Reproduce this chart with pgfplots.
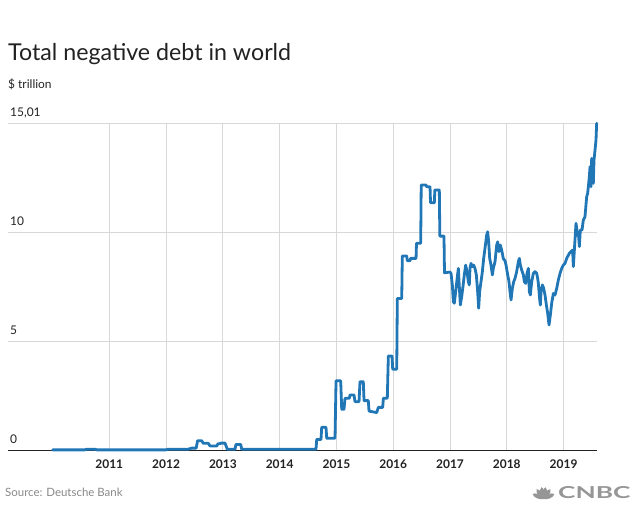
\documentclass[border=0pt]{standalone}
\usepackage{fontspec}
\setmainfont{Lato}
\usepackage{graphicx}
\usepackage{pgfplots}
\pgfplotsset{compat=1.18}
\definecolor{lineblue}{RGB}{33,118,182}
\definecolor{gridgray}{RGB}{216,216,216}
\definecolor{txt}{RGB}{34,34,34}
\definecolor{srcgray}{RGB}{136,136,136}
\definecolor{logogray}{RGB}{150,150,150}
\begin{document}
\begin{tikzpicture}[x=1bp,y=1bp]
\path[use as bounding box] (0,0) rectangle (638,513);
\node[anchor=base west, font=\fontsize{23.3}{26}\selectfont, text=txt, inner sep=0] at (8,452.3) {Total negative debt in world};
\node[anchor=base west, font=\fontsize{12}{14}\selectfont, text=txt, inner sep=0] at (8,424) {\$ trillion};
\node[anchor=base west, font=\fontsize{11.5}{14}\selectfont, text=srcgray, inner sep=0] at (5,16.5) {Source: Deutsche Bank};
% CNBC logo
\begin{scope}[shift={(543.5,14)}]
\foreach \a in {25,55,80,100,125,155}{
  \fill[logogray, rotate=\a] (0,0) .. controls (3,2.7) and (10,3) .. (12,0) .. controls (10,-3) and (3,-2.7) .. (0,0);
}
\end{scope}
\node[anchor=base west, font=\fontsize{16.5}{18}\selectfont\bfseries, text=logogray, inner sep=0] at (558,14) {\scalebox{1.6}[1]{CNBC}};
\begin{axis}[
  at={(8bp,62.7bp)}, anchor=south west,
  scale only axis, width=589bp, height=327bp,
  xmin=2009.216, xmax=2019.589,
  ymin=0, ymax=15.01,
  clip=false,
  axis x line*=bottom, axis y line*=left,
  x axis line style={draw=txt, line width=1.2bp},
  y axis line style={draw=none},
  xtick={2011,2012,2013,2014,2015,2016,2017,2018,2019},
  xticklabels={2011,2012,2013,2014,2015,2016,2017,2018,2019},
  xticklabel style={font=\fontsize{12}{13}\selectfont\bfseries, text=txt, anchor=north, yshift=-6bp},
  major tick length=0,
  ytick={5,10,15.01},
  yticklabels={},
  xmajorgrids, ymajorgrids,
  major grid style={draw=gridgray, line width=0.9bp},
]
\node[anchor=base west, font=\fontsize{12}{14}\selectfont, text=txt, inner sep=0] at (axis cs:2009.216,15.01) [xshift=2bp, yshift=6.5bp] {15,01};
\node[anchor=base west, font=\fontsize{12}{14}\selectfont, text=txt, inner sep=0] at (axis cs:2009.216,10) [xshift=2bp, yshift=6.5bp] {10};
\node[anchor=base west, font=\fontsize{12}{14}\selectfont, text=txt, inner sep=0] at (axis cs:2009.216,5) [xshift=2bp, yshift=6.5bp] {5};
\node[anchor=base west, font=\fontsize{12}{14}\selectfont, text=txt, inner sep=0] at (axis cs:2009.216,0) [xshift=2bp, yshift=7bp] {0};
\addplot[draw=lineblue, line width=2.8bp, line join=round, line cap=round, mark=none] coordinates {
(2010.003,0.02) (2010.57,0.02) (2010.6,0.05) (2010.75,0.05) (2010.78,0.02)
(2012.0,0.02) (2012.03,0.05) (2012.39,0.05) (2012.45,0.1) (2012.53,0.1)
(2012.555,0.44) (2012.627,0.44) (2012.655,0.32) (2012.744,0.32) (2012.773,0.2)
(2012.892,0.2) (2012.914,0.3) (2012.95,0.3) (2012.96,0.33) (2013.038,0.33)
(2013.078,0.05) (2013.214,0.05) (2013.231,0.27) (2013.314,0.27) (2013.332,0.05)
(2014.64,0.05) (2014.653,0.5) (2014.728,0.5) (2014.741,1.06) (2014.816,1.06)
(2014.829,0.55) (2014.975,0.55) (2014.993,3.19) (2015.075,3.19) (2015.093,1.88)
(2015.133,1.88) (2015.151,2.39) (2015.227,2.39) (2015.239,2.54) (2015.31,2.54)
(2015.327,2.23) (2015.398,2.23) (2015.415,3.15) (2015.473,3.15) (2015.486,2.28)
(2015.561,2.28) (2015.574,1.8) (2015.709,1.73) (2015.738,1.97) (2015.815,1.97)
(2015.826,2.39) (2015.896,2.39) (2015.914,4.33) (2015.979,4.33) (2015.991,3.72)
(2016.062,3.72) (2016.072,6.97) (2016.15,6.97) (2016.16,8.92) (2016.238,8.92)
(2016.248,8.7) (2016.296,8.7) (2016.305,8.81) (2016.402,8.81) (2016.41,9.5)
(2016.484,9.5) (2016.493,12.18) (2016.578,12.18) (2016.587,12.1) (2016.648,12.1)
(2016.657,11.36) (2016.724,11.36) (2016.733,11.95) (2016.812,11.95) (2016.821,9.83)
(2016.894,9.83) (2016.903,8.15) (2017.0,8.18)
(2017.018,8.12) (2017.041,7.59) (2017.059,6.82) (2017.076,6.75) (2017.1,7.28)
(2017.123,7.82) (2017.147,8.35) (2017.164,7.51) (2017.182,6.67) (2017.206,7.05)
(2017.235,7.66) (2017.252,8.05) (2017.276,8.5) (2017.3,8.2) (2017.323,7.74)
(2017.34,7.59) (2017.352,8.35) (2017.37,8.58) (2017.393,8.43) (2017.417,8.5)
(2017.44,8.35) (2017.464,8.05) (2017.487,7.28) (2017.505,6.52) (2017.522,7.28)
(2017.546,7.74) (2017.57,8.2) (2017.593,8.81) (2017.616,9.27) (2017.646,9.88)
(2017.663,10.03) (2017.681,9.57) (2017.699,8.81) (2017.722,8.5) (2017.746,8.05)
(2017.763,8.35) (2017.793,8.66) (2017.822,9.42) (2017.84,9.57) (2017.863,9.12)
(2017.886,9.42) (2017.91,9.19) (2017.939,8.8) (2017.969,8.7)
(2017.987,8.5) (2018.016,8.05) (2018.039,7.74) (2018.057,7.28) (2018.075,6.9)
(2018.098,7.43) (2018.122,7.74) (2018.145,7.89) (2018.174,8.2) (2018.204,8.66)
(2018.221,8.81) (2018.239,8.5) (2018.263,8.27) (2018.292,8.05) (2018.309,7.74)
(2018.333,7.66) (2018.356,8.12) (2018.38,8.35) (2018.398,7.28) (2018.415,7.13)
(2018.439,7.74) (2018.468,8.12) (2018.497,8.2) (2018.527,8.12) (2018.544,7.89)
(2018.556,7.66) (2018.58,6.9) (2018.591,6.67) (2018.603,7.28) (2018.627,7.59)
(2018.65,7.43) (2018.673,7.13) (2018.697,6.67) (2018.72,6.29) (2018.744,5.75)
(2018.767,6.21) (2018.791,6.75) (2018.82,7.2) (2018.85,7.13) (2018.879,7.43)
(2018.908,7.82) (2018.938,8.12) (2018.967,8.35) (2018.996,8.5) (2019.026,8.58)
(2019.055,8.81) (2019.102,9.04) (2019.131,9.12) (2019.16,9.19) (2019.172,8.43) (2019.201,9.65)
(2019.219,10.42) (2019.243,9.96) (2019.266,9.8) (2019.278,9.35) (2019.295,10.11)
(2019.325,10.11) (2019.348,10.57) (2019.377,10.72) (2019.407,11.64) (2019.424,11.79)
(2019.448,12.4) (2019.454,12.56) (2019.466,13.02) (2019.483,12.1) (2019.495,13.4)
(2019.512,12.86) (2019.524,12.25) (2019.536,13.32) (2019.554,13.78) (2019.571,14.24)
(2019.583,15.01)
};
\end{axis}
\end{tikzpicture}
\end{document}
